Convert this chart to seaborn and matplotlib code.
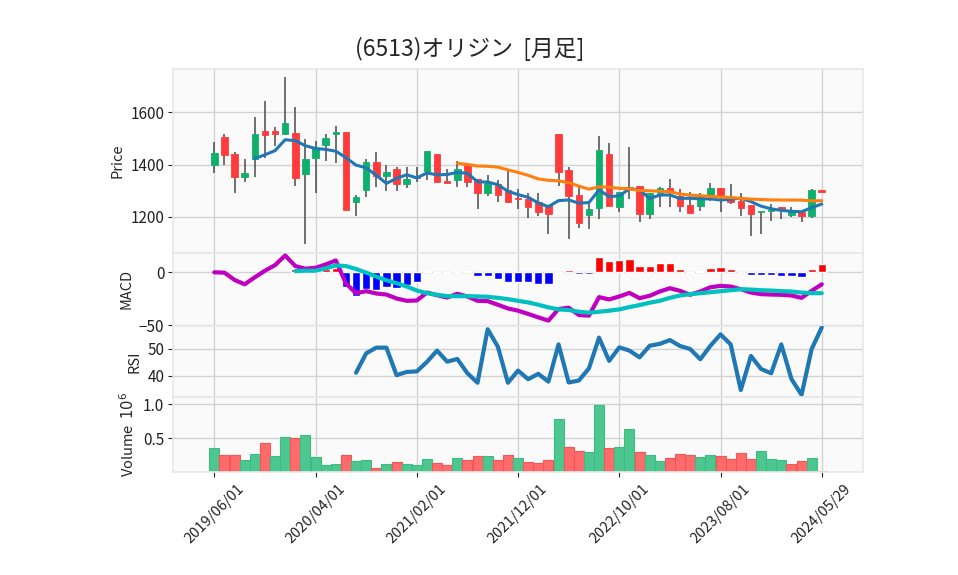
import numpy as np
import pandas as pd
import matplotlib
matplotlib.use("Agg")
import matplotlib.pyplot as plt
import seaborn as sns

# monthly bars 2019/06 .. 2024/05, plus the running month (2024/05/29)
dates = list(pd.date_range("2019-06-01", "2024-05-01", freq="MS")) + [pd.Timestamp("2024-05-29")]

opens = [1399, 1504, 1439, 1353, 1420, 1527, 1528, 1518, 1521, 1365,
         1426, 1476, 1519, 1525, 1258, 1304, 1410, 1357, 1385, 1324,
         1353, 1376, 1439, 1337, 1343, 1398, 1345, 1293, 1325, 1302,
         1273, 1268, 1255, 1245, 1517, 1379, 1283, 1208, 1235, 1439,
         1238, 1316, 1319, 1210, 1290, 1309, 1279, 1244, 1242, 1279,
         1310, 1274, 1259, 1244, 1219, 1222, 1236, 1208, 1219, 1204,
         1302]
highs = [1485, 1517, 1447, 1420, 1583, 1645, 1545, 1734, 1622, 1499,
         1491, 1518, 1549, 1525, 1285, 1421, 1447, 1397, 1389, 1392,
         1389, 1451, 1439, 1382, 1412, 1398, 1345, 1362, 1343, 1379,
         1305, 1290, 1293, 1245, 1517, 1392, 1315, 1248, 1511, 1481,
         1297, 1468, 1319, 1290, 1315, 1345, 1305, 1296, 1290, 1331,
         1310, 1324, 1290, 1244, 1223, 1251, 1236, 1236, 1219, 1305,
         1302]
lows = [1366, 1397, 1290, 1332, 1351, 1424, 1472, 1512, 1320, 1096,
        1290, 1414, 1408, 1227, 1203, 1276, 1315, 1299, 1299, 1309,
        1332, 1341, 1328, 1330, 1313, 1315, 1230, 1279, 1256, 1258,
        1230, 1194, 1203, 1134, 1320, 1115, 1159, 1153, 1190, 1242,
        1217, 1270, 1182, 1190, 1236, 1236, 1217, 1216, 1223, 1259,
        1219, 1249, 1203, 1126, 1134, 1184, 1191, 1200, 1179, 1194,
        1296]
closes = [1443, 1438, 1351, 1368, 1517, 1514, 1518, 1559, 1350, 1420,
          1462, 1500, 1525, 1227, 1276, 1410, 1357, 1370, 1324, 1345,
          1350, 1451, 1334, 1331, 1385, 1332, 1290, 1328, 1282, 1258,
          1268, 1239, 1219, 1212, 1373, 1281, 1177, 1230, 1456, 1242,
          1297, 1311, 1210, 1290, 1309, 1300, 1242, 1216, 1277, 1310,
          1277, 1258, 1235, 1212, 1223, 1226, 1228, 1217, 1204, 1301,
          1296]
volumes = [353000, 245000, 245000, 176000, 265000, 426000, 235000, 515000, 495000, 544000,
           221000, 103000, 118000, 245000, 162000, 176000, 54000, 118000, 147000, 118000,
           103000, 191000, 132000, 103000, 206000, 176000, 235000, 235000, 176000, 245000,
           206000, 142000, 127000, 172000, 775000, 363000, 304000, 289000, 985000, 348000,
           363000, 627000, 289000, 245000, 157000, 206000, 260000, 245000, 216000, 245000,
           230000, 186000, 275000, 186000, 304000, 186000, 172000, 113000, 157000, 206000,
           10000]

macd = [0.0, -0.3, -7.2, -11.3, -4.7, 1.5, 6.8, 15.9, 5.9, 3.4,
        4.3, 7.4, 11.2, -10.5, -19.7, -17.8, -20.0, -21.0, -24.7, -26.9,
        -26.6, -19.1, -21.6, -23.8, -20.3, -22.8, -26.9, -27.2, -30.6, -34.1,
        -36.2, -39.3, -42.5, -45.6, -34.6, -33.4, -40.3, -40.9, -23.4, -25.6,
        -22.8, -19.4, -24.4, -22.2, -18.1, -15.0, -17.5, -21.2, -18.1, -14.1,
        -12.8, -13.4, -15.9, -19.1, -20.6, -21.0, -21.2, -21.9, -24.1, -17.5,
        -11.3]
signal = [np.nan] * 8 + [
    1.2, 1.5, 1.5, 3.7, 6.5, 5.9, 3.1, -0.3, -4.1, -7.5,
    -10.3, -13.4, -17.2, -19.7, -21.2, -22.5, -22.5, -22.5, -22.8, -23.1,
    -24.1, -25.3, -26.9, -28.4, -30.6, -33.1, -35.0, -35.6, -37.2, -38.1,
    -37.2, -36.2, -35.0, -32.8, -30.9, -28.7, -26.9, -24.1, -21.9, -20.6,
    -19.7, -18.8, -17.8, -16.9, -15.9, -16.3, -16.9, -17.2, -17.8, -18.1,
    -19.1, -19.7, -19.7]
hist = [np.nan] * 8 + [
    3.5, 1.5, 2.0, 3.5, 4.5, -13.5, -21.9, -15.9, -16.5, -13.4,
    -14.4, -11.9, -9.1, 1.5, -0.4, -0.6, 1.5, 0.9, -3.1, -3.1,
    -6.0, -8.7, -8.7, -8.7, -10.9, -11.2, -0.5, 2.2, -1.9, -1.9,
    14.6, 10.9, 11.5, 12.5, 6.2, 5.9, 8.7, 8.7, 3.1, -0.3,
    1.2, 4.0, 5.0, 3.1, 0.2, -2.2, -2.8, -2.8, -3.7, -3.7,
    -4.1, 3.1, 7.8]
rsi = [np.nan] * 14 + [
    41.2, 48.4, 50.5, 50.5, 40.3, 41.5, 41.7, 45.2, 49.4, 45.3,
    46.3, 41.0, 37.5, 57.3, 50.9, 37.5, 42.0, 38.8, 40.8, 37.9,
    51.7, 37.6, 38.3, 42.8, 54.2, 45.6, 50.6, 49.4, 46.9, 51.2,
    51.9, 53.3, 51.1, 50.0, 46.2, 51.2, 55.4, 51.7, 34.8, 47.4,
    42.6, 41.0, 51.7, 38.9, 33.0, 50.0, 58.0]

tick_idx = [0, 10, 20, 30, 40, 50, 60]

sns.set_theme(style="whitegrid", rc={
    "axes.facecolor": "#fafafa",
    "axes.edgecolor": "#e8e8e8",
    "grid.color": "#d2d2d2",
    "grid.linewidth": 1.0,
})
plt.rcParams["font.family"] = ["Noto Sans CJK JP", "DejaVu Sans"]

x = np.arange(len(dates))
o = np.array(opens, float)
c = np.array(closes, float)
up = c >= o
ma5 = pd.Series(c).rolling(5).mean()
ma25 = pd.Series(c).rolling(25).mean()
vol_up = np.r_[True, c[1:] >= c[:-1]]

UP, DOWN = "#0fb06c", "#ff3b3b"
VUP, VDOWN = "#4cc790", "#ff6b6b"

W, H = 958, 575
def box(top, bottom):
    return [173.3 / W, 1 - bottom / H, 690 / W, (bottom - top) / H]

fig = plt.figure(figsize=(9.58, 5.75), dpi=100)
ax_p = fig.add_axes(box(69.3, 252.5))
ax_m = fig.add_axes(box(252.5, 325.5), sharex=ax_p)
ax_r = fig.add_axes(box(325.5, 397.3), sharex=ax_p)
ax_v = fig.add_axes(box(397.3, 472), sharex=ax_p)

# ---- price panel
ax_p.vlines(x, lows, highs, color="#4a4a4a", linewidth=1.1, zorder=2)
ax_p.bar(x, c - o, bottom=o, width=0.65,
         color=[UP if u else DOWN for u in up],
         edgecolor=[UP if u else DOWN for u in up], linewidth=0.6, zorder=3)
sns.lineplot(x=x, y=ma5, ax=ax_p, color="#1f77b4", linewidth=2.2, zorder=4)
sns.lineplot(x=x, y=ma25, ax=ax_p, color="#ff7f0e", linewidth=2.2, zorder=4)
ax_p.set_ylim(1063.6, 1764.8)
ax_p.set_yticks([1200, 1400, 1600])
ax_p.set_ylabel("Price", fontsize=10.5)

# ---- MACD panel
h = np.array(hist, float)
ax_m.bar(x, h, width=0.82, color=np.where(h >= 0, "#ff0000", "#0000ff"), zorder=2)
sns.lineplot(x=x, y=macd, ax=ax_m, color="#c000c0", linewidth=3, zorder=3)
sns.lineplot(x=x, y=signal, ax=ax_m, color="#00c0c0", linewidth=3, zorder=4)
ax_m.set_ylim(-50.2, 18.7)
ax_m.set_yticks([-50, 0])
ax_m.set_ylabel("MACD", fontsize=10.5)

# ---- RSI panel
sns.lineplot(x=x, y=rsi, ax=ax_r, color="#1f77b4", linewidth=3, zorder=3)
ax_r.set_ylim(32.1, 58.7)
ax_r.set_yticks([40, 50])
ax_r.set_ylabel("RSI", fontsize=10.5)

# ---- volume panel
ax_v.bar(x, volumes, width=0.98,
         color=[VUP if u else VDOWN for u in vol_up],
         edgecolor=["#3dbb82" if u else "#f55555" for u in vol_up], linewidth=0.8, zorder=2)
ax_v.set_ylim(0, 1.099e6)
ax_v.set_yticks([0.5e6, 1.0e6])
ax_v.set_yticklabels(["0.5", "1.0"])
ax_v.set_ylabel("Volume  $10^{6}$", fontsize=10.5)

for ax in (ax_p, ax_m, ax_r, ax_v):
    ax.set_xlim(-4.05, 64.1)
    ax.set_xticks(tick_idx)
    ax.grid(True, which="major", axis="both")
    ax.tick_params(axis="y", left=True, length=3.5, width=0.8, color="#222222",
                   labelsize=11, labelcolor="#222222", pad=3)
    ax.tick_params(axis="x", bottom=False, labelbottom=False)
    ax.set_xlabel("")
    for s in ax.spines.values():
        s.set_color("#e8e8e8")

ax_v.tick_params(axis="x", bottom=True, labelbottom=True, length=3.5, width=0.8,
                 color="#222222", labelsize=10.5, labelcolor="#222222")
ax_v.set_xticklabels([dates[i].strftime("%Y/%m/%d") for i in tick_idx], rotation=45)

fig.suptitle("(6513)オリジン  [月足]", x=0.49, y=0.935, fontsize=16.5)

fig.savefig("out.png", dpi=100)
